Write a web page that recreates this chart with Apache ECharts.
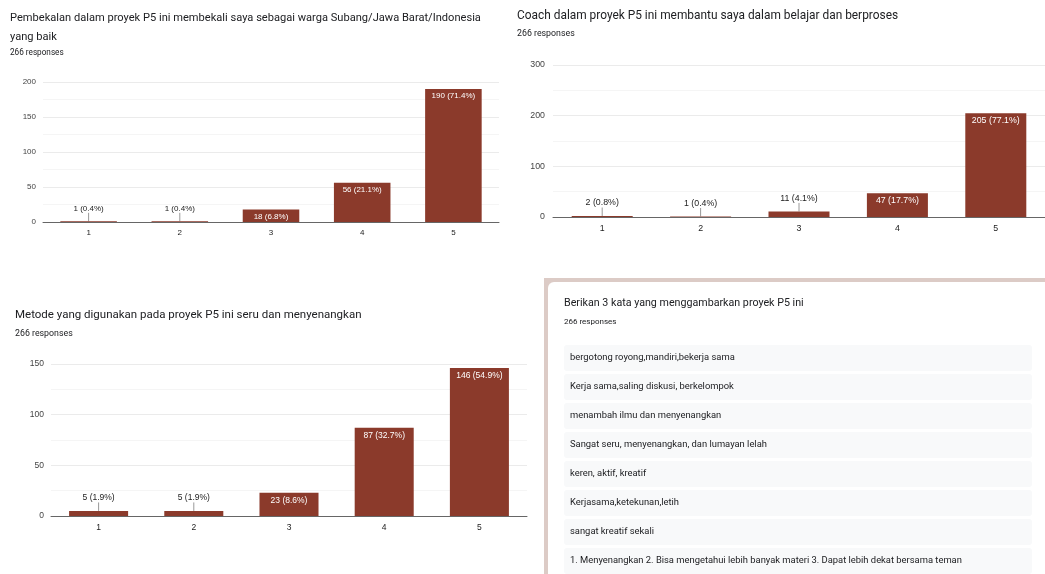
<!DOCTYPE html>
<html>
<head>
<meta charset="utf-8">
<title>P5</title>
<script src="https://cdn.jsdelivr.net/npm/echarts@6/dist/echarts.min.js"></script>
<style>
  html, body { margin: 0; padding: 0; background: #fff; }
  #chart { width: 1045px; height: 574px; }
</style>
</head>
<body>
<div id="chart"></div>
<script>
// data
const categories = ['1', '2', '3', '4', '5'];
const totalResponses = 266;
const pembekalanValues = [1, 1, 18, 56, 190];
const coachValues = [2, 1, 11, 47, 205];
const metodeValues = [5, 5, 23, 87, 146];
const yTicks1 = [0, 200, 50];   // min, max, step
const yTicks2 = [0, 300, 100];
const yTicks3 = [0, 150, 50];
const responses = [
  'bergotong royong,mandiri,bekerja sama',
  'Kerja sama,saling diskusi, berkelompok',
  'menambah ilmu dan menyenangkan',
  'Sangat seru, menyenangkan, dan lumayan lelah',
  'keren, aktif, kreatif',
  'Kerjasama,ketekunan,letih',
  'sangat kreatif sekali',
  '1. Menyenangkan 2. Bisa mengetahui lebih banyak materi 3. Dapat lebih dekat bersama teman'
];

const FONT = 'Roboto';
const CHART_FONT = '"Liberation Sans", Arial, sans-serif';
const BAR = '#8b3a2b';
const TEXT = '#202124';

let chart = echarts.init(document.getElementById('chart'));

function pct(v) {
  return v + ' (' + (v / totalResponses * 100).toFixed(1) + '%)';
}

// google-forms style: label inside the bar when it fits, else above with a small line
function barData(values, max, plotHeight) {
  return values.map(v => {
    let h = v / max * plotHeight;
    if (h >= 11) {
      return { value: v, label: { position: 'insideTop', distance: 3, color: '#fff' } };
    }
    return { value: v, label: { position: 'top', distance: 0, color: '#222' }, labelLine: { show: true } };
  });
}

function axes(idx, ticks, marginY, fs) {
  return {
    x: {
      type: 'category', gridIndex: idx, data: categories,
      axisTick: { show: false },
      axisLine: { lineStyle: { color: '#666', width: 1 } },
      axisLabel: { color: '#222', fontSize: fs, fontFamily: CHART_FONT, margin: 7 }
    },
    y: {
      type: 'value', gridIndex: idx, min: ticks[0], max: ticks[1], interval: ticks[2],
      axisLine: { show: false }, axisTick: { show: false },
      axisLabel: { color: '#444', fontSize: fs, fontFamily: CHART_FONT, margin: marginY },
      splitLine: { lineStyle: { color: '#ebebeb' } },
      minorTick: { show: false, splitNumber: 2 },
      minorSplitLine: { show: true, lineStyle: { color: '#f5f5f5' } }
    }
  };
}

let a1 = axes(0, yTicks1, 7, 8);
let a2 = axes(1, yTicks2, 8, 8.8);
let a3 = axes(2, yTicks3, 7, 8.5);

function series(idx, values, ticks, plotHeight, fs) {
  return {
    type: 'bar', xAxisIndex: idx, yAxisIndex: idx,
    barWidth: '62%',
    itemStyle: { color: BAR },
    label: { show: true, fontSize: fs, fontFamily: CHART_FONT, formatter: p => pct(p.value) },
    labelLine: { show: false, lineStyle: { color: '#999', width: 1 }, length2: 0 },
    labelLayout: p => (p.labelRect && p.rect && p.labelRect.y + p.labelRect.height <= p.rect.y + 1) ? { dy: -8.5 } : {},
    data: barData(values, ticks[1], plotHeight)
  };
}

function titleStyle(fs) {
  return { fontSize: fs, fontWeight: 'normal', color: TEXT, fontFamily: FONT, lineHeight: 19 };
}
function subStyle(fs) {
  return { fontSize: fs, fontWeight: 'normal', color: TEXT, fontFamily: FONT, lineHeight: 11 };
}

let cardItems = [];
responses.forEach((r, i) => {
  cardItems.push({
    type: 'rect', shape: { x: 564, y: 345 + 29 * i, width: 468, height: 26, r: 3 },
    style: { fill: '#f8f9fa' }
  });
  cardItems.push({
    type: 'text', x: 570, y: 358 + 29 * i,
    style: { text: r, fill: TEXT, fontSize: 9.4, fontFamily: FONT, verticalAlign: 'middle' }
  });
});

let option = {
  backgroundColor: '#fff',
  animation: false,
  title: [
    { text: 'Pembekalan dalam proyek P5 ini membekali saya sebagai warga Subang/Jawa Barat/Indonesia\nyang baik',
      left: 10, top: 8.5, padding: 0, textStyle: titleStyle(11.1) },
    { text: '266 responses', left: 10, top: 47.5, padding: 0, textStyle: subStyle(8.2) },
    { text: 'Coach dalam proyek P5 ini membantu saya dalam belajar dan berproses',
      left: 517, top: 7, padding: 0, textStyle: titleStyle(11.9) },
    { text: '266 responses', left: 517, top: 28, padding: 0, textStyle: subStyle(8.8) },
    { text: 'Metode yang digunakan pada proyek P5 ini seru dan menyenangkan',
      left: 15, top: 305.5, padding: 0, textStyle: titleStyle(11.5) },
    { text: '266 responses', left: 15, top: 328, padding: 0, textStyle: subStyle(8.8) }
  ],
  grid: [
    { left: 43, top: 82, width: 456, height: 140 },
    { left: 553, top: 65, width: 492, height: 152 },
    { left: 51, top: 364, width: 476, height: 152 }
  ],
  xAxis: [a1.x, a2.x, a3.x],
  yAxis: [a1.y, a2.y, a3.y],
  series: [
    series(0, pembekalanValues, yTicks1, 140, 8),
    series(1, coachValues, yTicks2, 152, 8.8),
    series(2, metodeValues, yTicks3, 152, 8.5)
  ],
  graphic: [{
    type: 'group', z: 100,
    children: [
      { type: 'rect', shape: { x: 544, y: 278, width: 501, height: 296 }, style: { fill: '#dccbc6' } },
      { type: 'rect', shape: { x: 548, y: 282, width: 497, height: 292, r: [6, 0, 0, 0] }, style: { fill: '#fff' } },
      { type: 'text', x: 564, y: 303,
        style: { text: 'Berikan 3 kata yang menggambarkan proyek P5 ini', fill: TEXT, fontSize: 10.7, fontFamily: FONT, verticalAlign: 'middle' } },
      { type: 'text', x: 564, y: 322,
        style: { text: '266 responses', fill: TEXT, fontSize: 8, fontFamily: FONT, verticalAlign: 'middle' } }
    ].concat(cardItems)
  }]
};

chart.setOption(option);
window.addEventListener('resize', function () {
  chart.resize();
});
</script>
</body>
</html>
